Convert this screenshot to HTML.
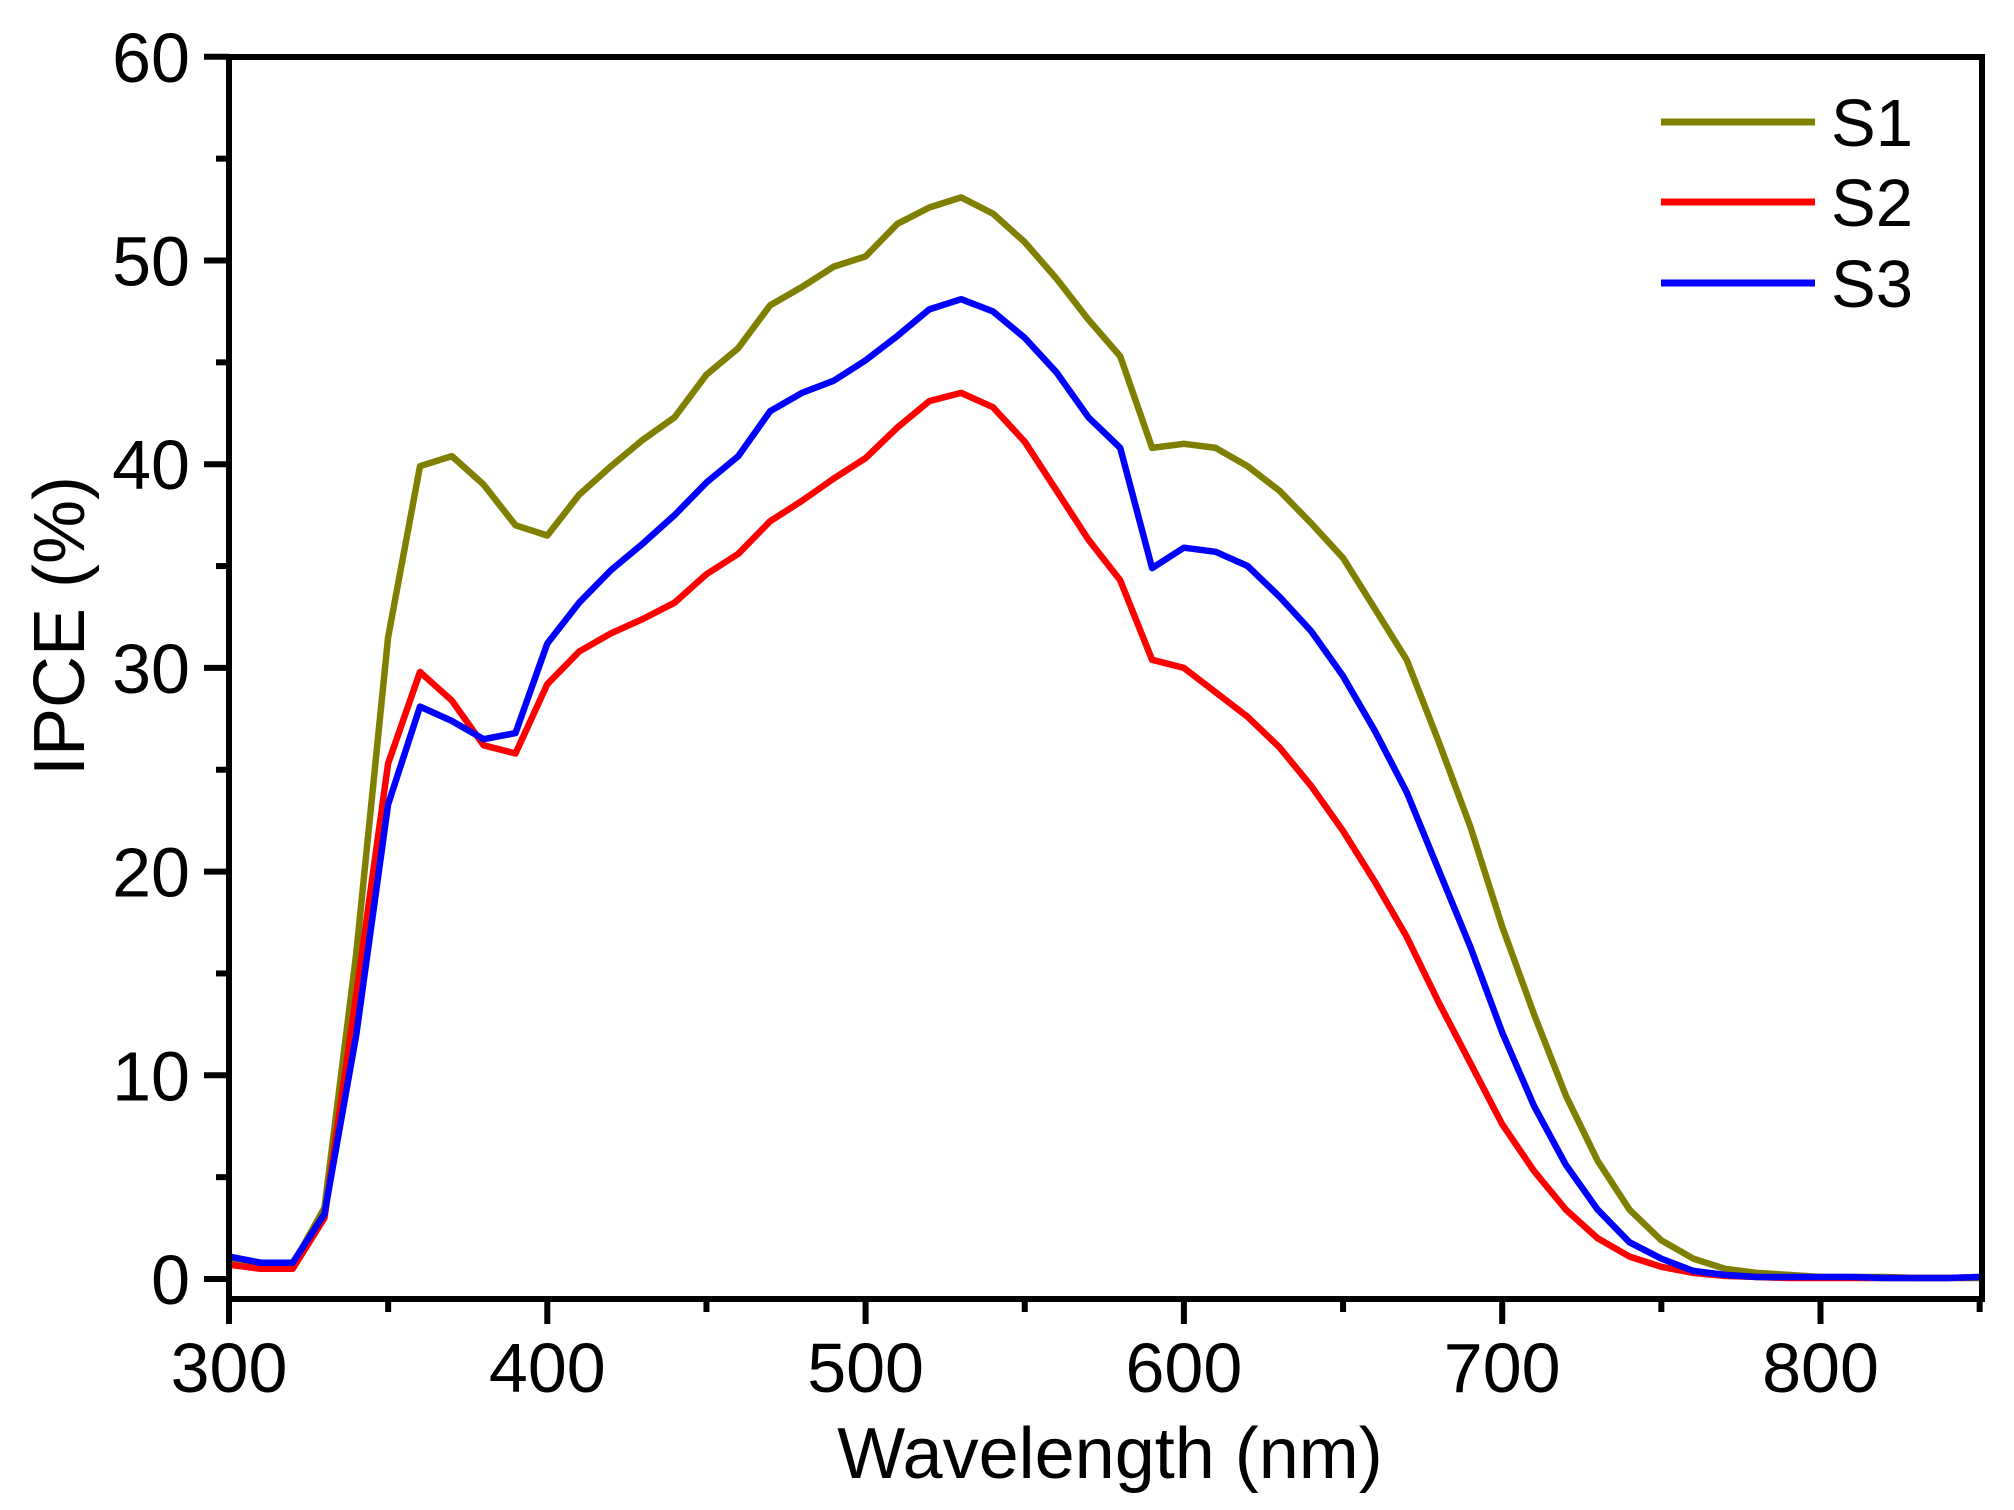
<!DOCTYPE html>
<html><head><style>body{margin:0;background:#fff}svg{display:block}</style></head>
<body>
<svg id="s" width="2014" height="1510" xmlns="http://www.w3.org/2000/svg" font-family="Liberation Sans, Arial, sans-serif">
<rect width="2014" height="1510" fill="#fff"/>
<g id="g"></g>
<text x="1110" y="1478" font-size="72" text-anchor="middle">Wavelength (nm)</text>
<text transform="translate(84,626) rotate(-90)" font-size="72" text-anchor="middle">IPCE (%)</text>
<line x1="1661" y1="122" x2="1815" y2="122" stroke="#808000" stroke-width="7"/>
<line x1="1661" y1="202" x2="1815" y2="202" stroke="#ff0000" stroke-width="7"/>
<line x1="1661" y1="283" x2="1815" y2="283" stroke="#0000ff" stroke-width="7"/>
<text x="1831" y="146" font-size="67">S1</text>
<text x="1831" y="226" font-size="67">S2</text>
<text x="1831" y="307" font-size="67">S3</text>
</svg>
<script>
var L=229,R=1982,T=57,B=1299,Y0=1279,PY=20.37,PX=3.183;
function X(w){return L+(w-300)*PX}function Yv(v){return Y0-v*PY}
var s1=[1.0,0.7,0.7,3.5,16,31.5,39.9,40.4,39,37,36.5,38.5,39.9,41.2,42.3,44.4,45.7,47.8,48.7,49.7,50.2,51.8,52.6,53.1,52.3,50.9,49.1,47.1,45.3,40.8,41,40.8,39.9,38.7,37.1,35.4,32.9,30.4,26.4,22.2,17.3,13,9,5.8,3.4,1.9,1,0.5,0.3,0.2,0.1,0.1,0.1,0.05,0.05,0.05];
var s2=[0.7,0.5,0.5,3,14,25.3,29.8,28.4,26.2,25.8,29.2,30.8,31.7,32.4,33.2,34.6,35.6,37.2,38.2,39.3,40.3,41.8,43.1,43.5,42.8,41.1,38.7,36.3,34.3,30.4,30,28.8,27.6,26.1,24.2,22,19.5,16.8,13.6,10.6,7.6,5.3,3.4,2,1.1,0.6,0.3,0.15,0.1,0.05,0.05,0.05,0.05,0.05,0.05,0.1];
var s3=[1.1,0.8,0.8,3.2,12,23.3,28.1,27.4,26.5,26.8,31.2,33.2,34.8,36.1,37.5,39.1,40.4,42.6,43.5,44.1,45.1,46.3,47.6,48.1,47.5,46.2,44.5,42.3,40.8,34.9,35.9,35.7,35,33.5,31.8,29.6,26.9,23.9,20.1,16.3,12.1,8.5,5.6,3.4,1.8,1,0.4,0.2,0.1,0.1,0.1,0.1,0.05,0.05,0.05,0.1];
var h='';
function pl(a,c){var p=a.map(function(v,i){return X(300+i*10).toFixed(1)+','+Yv(v).toFixed(1)}).join(' ');h+='<polyline points="'+p+'" fill="none" stroke="'+c+'" stroke-width="6.5" stroke-linejoin="round"/>';}
pl(s1,'#808000');pl(s2,'#ff0000');pl(s3,'#0000ff');
h+='<path d="M'+L+' '+T+' H'+R+' V'+B+' H'+L+' Z" fill="none" stroke="#000" stroke-width="6"/>';
for(var w=300;w<=850;w+=50){var x=X(w),maj=w%100==0;h+='<line x1="'+x+'" y1="'+B+'" x2="'+x+'" y2="'+(B+(maj?25:13))+'" stroke="#000" stroke-width="6"/>';if(maj)h+='<text x="'+x+'" y="1392" font-size="70" text-anchor="middle">'+w+'</text>';}
for(var v=0;v<=60;v+=5){var y=Yv(v),maj=v%10==0;h+='<line x1="'+L+'" y1="'+y+'" x2="'+(L-(maj?25:13))+'" y2="'+y+'" stroke="#000" stroke-width="6"/>';if(maj)h+='<text x="190" y="'+(y+25)+'" font-size="70" text-anchor="end">'+v+'</text>';}
document.getElementById('g').innerHTML=h;
</script>
</body></html>
